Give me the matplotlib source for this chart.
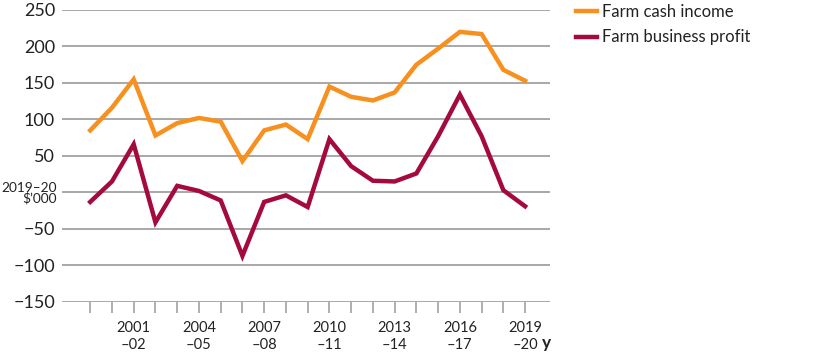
import matplotlib.pyplot as plt

plt.rcParams['font.family'] = ['Lato', 'DejaVu Sans']

# Data (2019-20 $'000), 1999-00 to 2019-20
years = ['1999-00', '2000-01', '2001-02', '2002-03', '2003-04', '2004-05', '2005-06',
         '2006-07', '2007-08', '2008-09', '2009-10', '2010-11', '2011-12', '2012-13',
         '2013-14', '2014-15', '2015-16', '2016-17', '2017-18', '2018-19', '2019-20']
cash_income = [85, 116, 155, 78, 95, 102, 97, 43, 85, 93, 73, 145, 131, 126, 137,
               175, 197, 220, 217, 168, 153]
business_profit = [-13, 15, 66, -41, 9, 2, -11, -87, -13, -4, -20, 73, 36, 16, 15,
                   26, 77, 134, 77, 3, -19]
y_ticks = [-150, -100, -50, 0, 50, 100, 150, 200, 250]

orange = '#F7901E'
red = '#A50A3C'
grid_col = '#9a9a9a'
text_col = '#222222'

fig = plt.figure(figsize=(8.15, 3.56), dpi=100)
ax = fig.add_axes([0.076, 0.152, 0.599, 0.82])

x = list(range(len(years)))
l1, = ax.plot(x, cash_income, color=orange, lw=3.2, solid_joinstyle='miter', label='Farm cash income')
l2, = ax.plot(x, business_profit, color=red, lw=3.2, solid_joinstyle='miter', label='Farm business profit')

ax.set_ylim(-150, 250)
ax.set_xlim(-1.3, 21.15)
ax.set_yticks(y_ticks)
ax.set_yticklabels(['\u2212150', '\u2212100', '\u221250', '', '50', '100', '150', '200', '250'],
                   fontsize=13, color=text_col)
ax.tick_params(axis='y', length=0, pad=5)
ax.grid(axis='y', color=grid_col, lw=1.2)
ax.set_axisbelow(True)
for s in ax.spines.values():
    s.set_visible(False)

# unit label in place of the 0 tick
ax.annotate("2019\u201320\n$\u2019000", xy=(0, 0), xycoords=ax.get_yaxis_transform(),
            xytext=(-5, -1), textcoords='offset pixels',
            ha='right', va='center', fontsize=9.8, color=text_col, linespacing=0.85)

ax.set_xticks(x)
labels = []
for i, yr in enumerate(years):
    if i % 3 == 2:
        a, b = yr.split('-')
        labels.append(a + '\n\u2013' + b)
    else:
        labels.append('')
ax.set_xticklabels(labels, fontsize=10.5, color=text_col, linespacing=1.25)
ax.tick_params(axis='x', length=8, width=1.1, color=grid_col, direction='out', pad=6)

# bold "y" unit after the last label
ax.annotate('y', xy=(20, 0), xycoords=ax.get_xaxis_transform(),
            xytext=(17, -41), textcoords='offset pixels',
            ha='left', va='center', fontsize=12.5, fontweight='bold', color=text_col)

fig.legend(handles=[l1, l2], loc='upper left', bbox_to_anchor=(0.688, 1.03),
           frameon=False, fontsize=12, handlelength=1.3, handletextpad=0.3,
           labelspacing=0.55, labelcolor=text_col)

fig.savefig('out.png', dpi=100)
